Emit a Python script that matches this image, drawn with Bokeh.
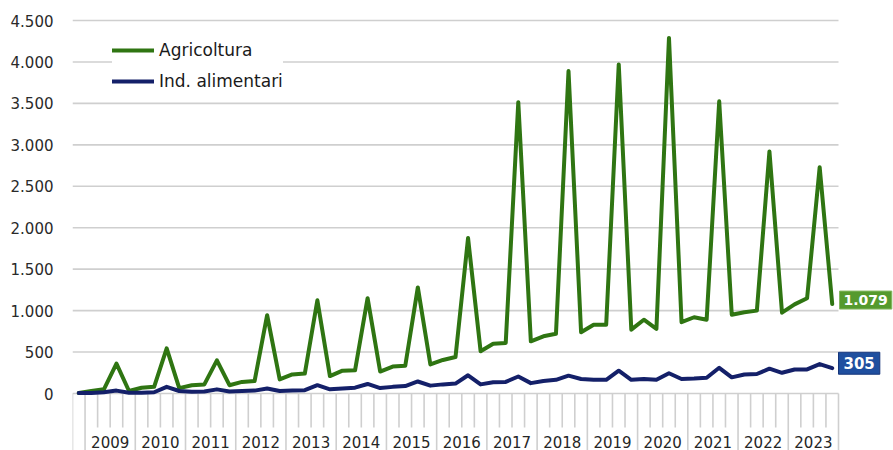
from bokeh.plotting import figure
from bokeh.models import Range1d, Label, FixedTicker
from bokeh.core.properties import value
from bokeh.embed import file_html
from bokeh.resources import INLINE

# ---------------- data ----------------
years = list(range(2009, 2024))
periods = ["2008 T4"] + [f"{y} T{q}" for y in years for q in (1, 2, 3, 4)]

agricoltura = [
    5,
    30, 50, 360, 30,          # 2009
    70, 80, 545, 65,          # 2010
    100, 110, 400, 100,       # 2011
    140, 150, 945, 170,       # 2012
    230, 240, 1125, 210,      # 2013
    275, 280, 1150, 265,      # 2014
    325, 335, 1280, 350,      # 2015
    405, 440, 1875, 510,      # 2016
    600, 610, 3515, 630,      # 2017
    690, 720, 3890, 740,      # 2018
    830, 830, 3970, 770,      # 2019
    890, 780, 4290, 860,      # 2020
    920, 890, 3525, 950,      # 2021
    980, 1000, 2920, 975,     # 2022
    1075, 1150, 2730, 1079,   # 2023
]
ind_alimentari = [
    5,
    5, 15, 35, 10,            # 2009
    10, 15, 80, 30,           # 2010
    20, 25, 50, 25,           # 2011
    30, 35, 60, 30,           # 2012
    35, 40, 100, 50,          # 2013
    60, 70, 115, 65,          # 2014
    80, 90, 145, 95,          # 2015
    110, 120, 220, 110,       # 2016
    135, 140, 205, 125,       # 2017
    150, 165, 215, 175,       # 2018
    165, 165, 275, 165,       # 2019
    175, 165, 245, 175,       # 2020
    180, 190, 310, 195,       # 2021
    230, 235, 300, 250,       # 2022
    290, 290, 355, 305,       # 2023
]
y_ticks = [0, 500, 1000, 1500, 2000, 2500, 3000, 3500, 4000, 4500]

GREEN = "#2f7512"
NAVY = "#142069"
FONT = "DejaVu Sans"
GRID = "#cfcfcf"


def fmt(v):
    return f"{v:,}".replace(",", ".")


# ---------------- layout ----------------
W, H = 893, 450
left_px, right_px = 72, 838          # category axis extent (pixels)
top_px, zero_px = 20, 393            # rows of 4500 and 0
upp = 4500 / (zero_px - top_px)      # data units per pixel
y_end = 4500 + top_px * upp
y_start = -(H - zero_px) * upp

n = len(periods)
xs = [i + 0.5 for i in range(n)]
x_end = n * (W - left_px) / (right_px - left_px)

p = figure(width=W, height=H, output_backend="svg", toolbar_location=None,
           x_range=Range1d(0, x_end), y_range=Range1d(y_start, y_end),
           min_border_left=left_px, min_border_right=0, min_border_top=0,
           min_border_bottom=0, background_fill_color="white",
           border_fill_color="white")
p.outline_line_color = None
p.xaxis.visible = False
p.xgrid.visible = False
p.ygrid.visible = False

p.yaxis.ticker = FixedTicker(ticks=y_ticks)
p.yaxis.major_label_overrides = {t: fmt(t) for t in y_ticks}
p.yaxis.axis_line_color = None
p.yaxis.major_tick_line_color = None
p.yaxis.minor_tick_line_color = None
p.yaxis.major_tick_out = 0
p.yaxis.major_tick_in = 0
p.yaxis.major_label_standoff = 19
p.yaxis.major_label_text_font = FONT
p.yaxis.major_label_text_font_size = "15px"
p.yaxis.major_label_text_color = "#2a2a2a"

# horizontal gridlines over the category span
p.segment(x0=[0] * len(y_ticks), y0=y_ticks, x1=[n] * len(y_ticks), y1=y_ticks,
          line_color=GRID, line_width=1.6)

# category ticks (between quarters) and year separators
long_b = [0] + [1 + 4 * k for k in range(len(years) + 1)]
short_b = [b for b in range(n + 1) if b not in long_b]
short_end = -34 * upp
p.segment(x0=short_b, y0=[0] * len(short_b), x1=short_b, y1=[short_end] * len(short_b),
          line_color=GRID, line_width=1.6)
p.segment(x0=long_b, y0=[0] * len(long_b), x1=long_b, y1=[y_start] * len(long_b),
          line_color=GRID, line_width=1.6)

year_x = [3 + 4 * k for k in range(len(years))]
p.text(x=year_x, y=[-(48 * upp)] * len(years), text=[str(y) for y in years],
       text_align="center", text_baseline="middle", text_font=value(FONT),
       text_font_size="15px", text_color="#262626")

p.line(xs, agricoltura, line_color=GREEN, line_width=4, line_join="round",
       line_cap="round", legend_label="Agricoltura")
p.line(xs, ind_alimentari, line_color=NAVY, line_width=4, line_join="round",
       line_cap="round", legend_label="Ind. alimentari")

lg = p.legend[0]
lg.location = (40, 359)
lg.background_fill_color = "white"
lg.background_fill_alpha = 1.0
lg.border_line_color = None
lg.padding = 10
lg.spacing = 11
lg.glyph_width = 42
lg.glyph_height = 20
lg.label_height = 20
lg.label_standoff = 5
lg.label_text_font = FONT
lg.label_text_font_size = "17px"
lg.label_text_color = "#1a1a1a"
lg.margin = 0

p.add_layout(Label(x=n, y=agricoltura[-1], text=fmt(agricoltura[-1]), x_offset=1, y_offset=4,
                   text_align="left", text_baseline="middle", text_font="DejaVu Sans",
                   text_font_size="14px", text_font_style="bold", text_color="white",
                   background_fill_color="#559a2e", border_line_color="#86b862",
                   padding=4))
p.add_layout(Label(x=n, y=ind_alimentari[-1], text=fmt(ind_alimentari[-1]), x_offset=0,
                   y_offset=5, text_align="left", text_baseline="middle",
                   text_font="DejaVu Sans", text_font_size="15px", text_font_style="bold",
                   text_color="white", background_fill_color="#1f4f9f",
                   border_line_color="#16357a", padding=5))

open("out.html", "w").write(file_html(p, INLINE))
